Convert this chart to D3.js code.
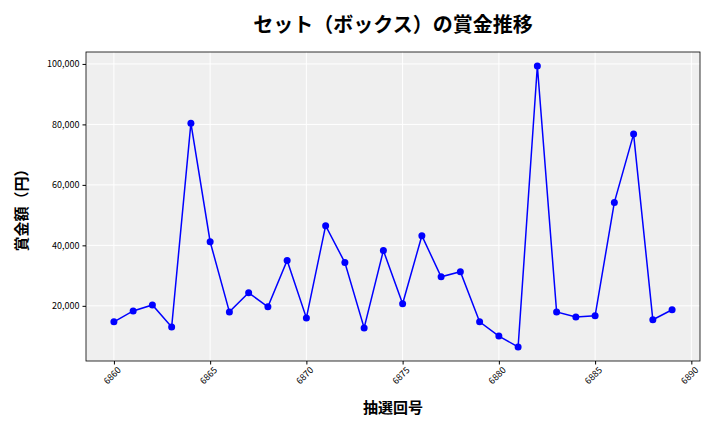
<!DOCTYPE html>
<html><head><meta charset="utf-8">
<script src="https://cdn.jsdelivr.net/npm/d3@7"></script>
<style>body{margin:0;background:#fff}text{font-family:"Noto Sans CJK JP","DejaVu Sans",sans-serif}</style>
</head><body><div id="chart"></div>
<script>
var rounds = d3.range(6860, 6890)
var prizes = [14700,18300,20300,13000,80400,41200,18000,24300,19700,35000,
              16000,46500,34300,12700,38300,20700,43200,29600,31300,14700,
              10000,6400,99300,18000,16300,16700,54200,76800,15400,18700]
var xTicks = [6860,6865,6870,6875,6880,6885,6890]
var yTicks = [20000,40000,60000,80000,100000]

var w = 720, h = 432
var m = {left: 86, right: 20, top: 52, bottom: 71}
var svg = d3.select("#chart").append("svg").attr("width", w).attr("height", h)

var x = d3.scaleLinear().domain([6858.55, 6890.45]).range([m.left, w - m.right])
var y = d3.scaleLinear().domain([1755, 103945]).range([h - m.bottom, m.top])

svg.append("rect").attr("x", m.left).attr("y", m.top)
    .attr("width", w - m.left - m.right).attr("height", h - m.top - m.bottom)
    .attr("fill", "#efefef")

// grid
svg.selectAll(".gx").data(xTicks).enter().append("line")
    .attr("x1", d => x(d)).attr("x2", d => x(d)).attr("y1", m.top).attr("y2", h - m.bottom)
    .attr("stroke", "#fff").attr("stroke-width", 1)
svg.selectAll(".gy").data(yTicks).enter().append("line")
    .attr("x1", m.left).attr("x2", w - m.right).attr("y1", d => y(d)).attr("y2", d => y(d))
    .attr("stroke", "#fff").attr("stroke-width", 1)

svg.append("rect").attr("x", m.left).attr("y", m.top)
    .attr("width", w - m.left - m.right).attr("height", h - m.top - m.bottom)
    .attr("fill", "none").attr("stroke", "#000").attr("stroke-width", 0.8)

var xa = svg.append("g").attr("transform", "translate(0," + (h - m.bottom) + ")")
    .call(d3.axisBottom(x).tickValues(xTicks).tickSize(3.5).tickFormat(d3.format("d")))
xa.select(".domain").remove()
xa.selectAll("text").attr("transform", "rotate(-45)").attr("text-anchor", "end")
    .attr("dx", "-0.2em").attr("dy", "0.6em").style("font-size", "9px")

var ya = svg.append("g").attr("transform", "translate(" + m.left + ",0)")
    .call(d3.axisLeft(y).tickValues(yTicks).tickSize(3.5).tickFormat(d3.format(",")))
ya.select(".domain").remove()
ya.selectAll("text").style("font-size", "9px")

var line = d3.line().x((d, i) => x(rounds[i])).y(d => y(d))
svg.append("path").datum(prizes).attr("d", line)
    .attr("fill", "none").attr("stroke", "#0000ff").attr("stroke-width", 1.5)
svg.selectAll(".pt").data(prizes).enter().append("circle")
    .attr("cx", (d, i) => x(rounds[i])).attr("cy", d => y(d)).attr("r", 3.5).attr("fill", "#0000ff")

svg.append("text").attr("x", 393).attr("y", 32).attr("text-anchor", "middle")
    .style("font-size", "20px").style("font-weight", "bold").text("セット（ボックス）の賞金推移")
svg.append("text").attr("x", 393).attr("y", 413).attr("text-anchor", "middle")
    .style("font-size", "15px").style("font-weight", "bold").text("抽選回号")
svg.append("text").attr("transform", "translate(27," + ((m.top + h - m.bottom) / 2) + ") rotate(-90)")
    .attr("text-anchor", "middle").style("font-size", "15px").style("font-weight", "bold").text("賞金額（円）")
</script></body></html>
